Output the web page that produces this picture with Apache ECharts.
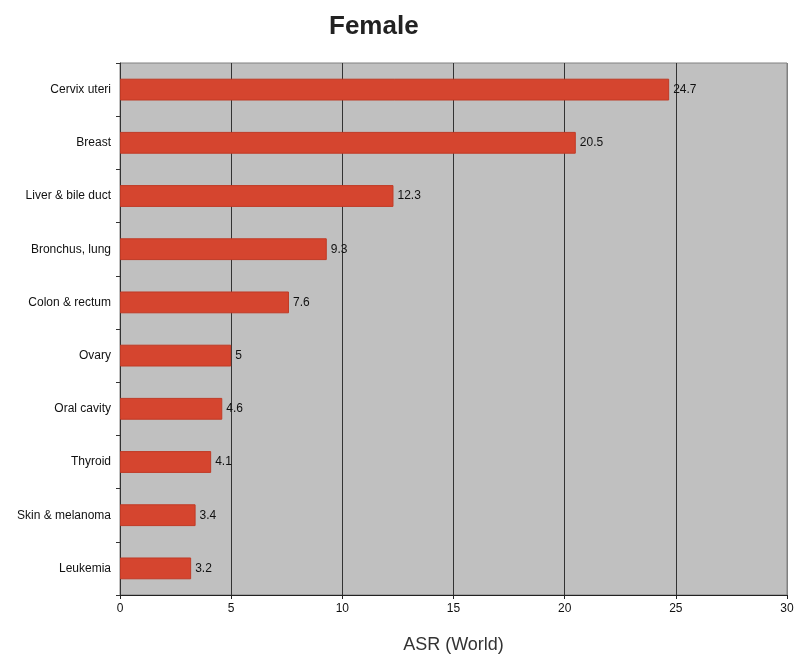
<!DOCTYPE html>
<html><head><meta charset="utf-8">
<script src="https://cdn.jsdelivr.net/npm/echarts@6/dist/echarts.min.js"></script>
<style>html,body{margin:0;padding:0;background:#fff}#c{width:794px;height:656px}</style>
</head><body><div id="c"></div>
<script>
const categories = ["Cervix uteri","Breast","Liver & bile duct","Bronchus, lung","Colon & rectum","Ovary","Oral cavity","Thyroid","Skin & melanoma","Leukemia"];
const values = [24.7,20.5,12.3,9.3,7.6,5,4.6,4.1,3.4,3.2];
const xTicks = [0,5,10,15,20,25,30];
const chart = echarts.init(document.getElementById('c'));
const font = 'Liberation Sans, Arial, sans-serif';
chart.setOption({
  animation:false,
  title:{text:'Female',left:324,top:9,textStyle:{fontFamily:font,fontSize:26,fontWeight:'bold',color:'#222'}},
  grid:{left:120,right:7,top:63,bottom:61,show:true,backgroundColor:'#c0c0c0',borderColor:'#808080',borderWidth:1,outerBoundsMode:'none',containLabel:false},
  xAxis:{type:'value',min:xTicks[0],max:xTicks[xTicks.length-1],interval:5,
    name:'ASR (World)',nameLocation:'middle',nameGap:41,nameTextStyle:{fontFamily:font,fontSize:18,color:'#333'},
    axisLine:{show:true,lineStyle:{color:'#222'}},axisTick:{show:true,length:4,lineStyle:{color:'#222'}},
    axisLabel:{fontFamily:font,fontSize:12,color:'#111',margin:8},
    splitLine:{show:true,lineStyle:{color:['#333','#333','#333','#333','#333','#333','#808080'],width:1}}},
  yAxis:{type:'category',data:categories,inverse:true,
    axisLine:{show:true,lineStyle:{color:'#333'}},axisTick:{show:true,length:4,inside:false,lineStyle:{color:'#333'}},
    axisLabel:{fontFamily:font,fontSize:12,color:'#111',margin:9}},
  series:[{type:'bar',data:values,barWidth:'41%',
    itemStyle:{color:'#d5452f',borderColor:'#c03a25',borderWidth:1},
    label:{show:true,position:'right',distance:4,fontFamily:font,fontSize:12,color:'#111'}}]
});
</script></body></html>
